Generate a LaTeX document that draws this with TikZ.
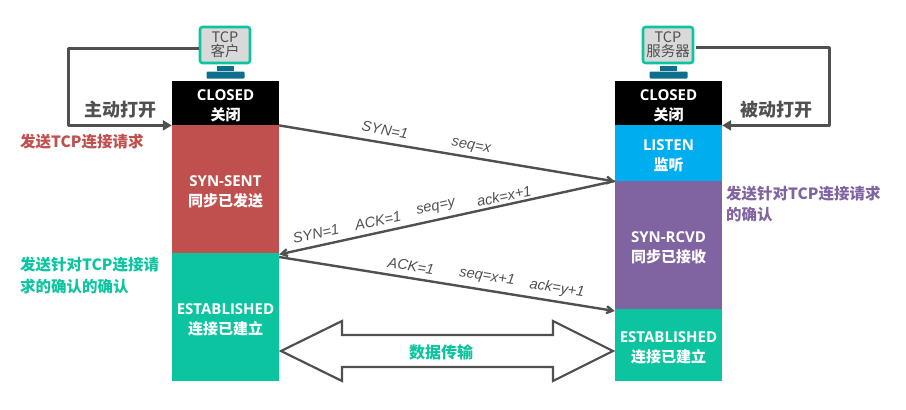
\documentclass[tikz,border=0pt]{standalone}
\usepackage{fontspec}
\usetikzlibrary{arrows.meta,calc,shapes.arrows}
\setmainfont{Open Sans}
\setsansfont{Liberation Sans}
\newfontfamily\cjk{Noto Sans CJK SC}
\definecolor{cgray}{HTML}{505050}
\definecolor{cred}{HTML}{C0504D}
\definecolor{cgreen}{HTML}{0CC5A0}
\definecolor{cblue}{HTML}{00ADEF}
\definecolor{cpurple}{HTML}{8064A2}
\definecolor{cteal}{HTML}{0F6E8C}
\tikzset{
  state/.style={inner sep=0pt,minimum width=107pt,text=white,align=center,font=\bfseries\fontsize{15}{20}\selectfont,anchor=north},
  flow/.style={draw=cgray,line width=3pt,line join=round,-{Triangle[length=9pt,width=10pt]}},
  msg/.style={draw=cgray,line width=2.4pt,-{Straight Barb[length=6pt,width=7pt]}},
  msgtext/.style={text=cgray,font=\sffamily\fontsize{14.6}{18}\selectfont\itshape,inner sep=0pt},
  action/.style={text=cgray,font=\cjk\bfseries\fontsize{18}{20}\selectfont,inner sep=0pt},
  note/.style={font=\cjk\bfseries\fontsize{15.5}{21}\selectfont,inner sep=0pt,align=left,anchor=north west},
  screen/.style={draw=cgreen,line width=2.6pt,fill=gray!30,rounded corners=2.5pt,minimum width=50pt,minimum height=36pt,inner sep=0pt,align=center,text=cgray,font=\cjk\fontsize{14.5}{15}\selectfont},
  stand/.style={fill=cteal,inner sep=0pt},
}
\begin{document}
\begin{tikzpicture}[x=1pt,y=-1pt]
\useasboundingbox (0,0) rectangle (906,410);
% client column
\node[state,fill=black,minimum height=44pt] (cclosed) at (225.5,81) {\rule{0pt}{17pt}CLOSED\\{\cjk 关闭}};
\node[state,fill=cred,minimum height=128pt] (csent) at (225.5,125) {\rule{0pt}{17pt}SYN-SENT\\{\cjk 同步已发送}};
\node[state,fill=cgreen,minimum height=128pt] (cest) at (225.5,253) {\rule{0pt}{17pt}ESTABLISHED\\{\cjk 连接已建立}};
% server column
\node[state,fill=black,minimum height=44pt] (sclosed) at (668.5,81) {\rule{0pt}{17pt}CLOSED\\{\cjk 关闭}};
\node[state,fill=cblue,minimum height=56pt] (slisten) at (668.5,125) {\rule{0pt}{17pt}LISTEN\\{\cjk 监听}};
\node[state,fill=cpurple,minimum height=128pt] (srcvd) at (668.5,181) {\rule{0pt}{17pt}SYN-RCVD\\{\cjk 同步已接收}};
\node[state,fill=cgreen,minimum height=72pt] (sest) at (668.5,309) {\rule{0pt}{17pt}ESTABLISHED\\{\cjk 连接已建立}};
% monitors
\node[screen] (cpc) at (225,45) {TCP\\[-1pt]客户};
\node[stand,minimum width=17pt,minimum height=5pt] (cneck) at (225.5,68.5) {};
\node[stand,minimum width=38pt,minimum height=7pt,rounded corners=1pt] (cbase) at (225.5,75) {};
\node[screen] (spc) at (668,45) {TCP\\[-1pt]服务器};
\node[stand,minimum width=17pt,minimum height=5pt] (sneck) at (668.5,68.5) {};
\node[stand,minimum width=38pt,minimum height=7pt,rounded corners=1pt] (sbase) at (668.5,75) {};
% open arrows
\coordinate (cleft) at (68,48);
\coordinate (sright) at (829,47);
\draw[flow] (cpc.west |- cleft) -- (cleft) |- (cclosed.south west);
\draw[flow] ($(spc.east |- sright)+(2,0)$) -- (sright) |- (sclosed.south east);
\node[action] (copen) at (120,110) {主动打开};
\node[action] (sopen) at (776,110) {被动打开};
% messages
\draw[msg] (cclosed.south east) -- (slisten.south west);
\draw[msg] (srcvd.north west) -- ($(csent.south east)+(0,1)$);
\draw[msg] ($(cest.north east)+(0,4)$) -- ($(sest.north west)+(0,2)$);
\node[msgtext,rotate=-10] (m1) at (385,130) {SYN=1};
\node[msgtext,rotate=-10] (m2) at (471,147) {seq=x};
\node[msgtext,rotate=12] (m3) at (316,234) {SYN=1};
\node[msgtext,rotate=12] (m4) at (378,221) {ACK=1};
\node[msgtext,rotate=12] (m5) at (436,208) {seq=y};
\node[msgtext,rotate=12] (m6) at (504,196) {ack=x+1};
\node[msgtext,rotate=-9] (m7) at (411,266) {ACK=1};
\node[msgtext,rotate=-9] (m8) at (487,277) {seq=x+1};
\node[msgtext,rotate=-9] (m9) at (557,289) {ack=y+1};
% data arrow
\coordinate (dl) at (281,351);
\coordinate (dr) at (613,351);
\draw[draw=cgray,line width=2.2pt,line join=miter,fill=white]
  (dl) -- (342,321) -- (342,335) -- (553,335) -- (553,321) -- (dr)
  -- (553,381) -- (553,367) -- (342,367) -- (342,381) -- cycle;
\node[text=cgreen,font=\cjk\bfseries\fontsize{16}{18}\selectfont,inner sep=0pt] (data) at (441,352) {数据传输};
% notes
\node[note,text=cred] (n1) at (20,134) {发送TCP连接请求};
\node[note,text=cgreen] (n2) at (20,257) {发送针对TCP连接请\\[1pt]求的确认的确认};
\node[note,text=cpurple] (n3) at (726,186) {发送针对TCP连接请求\\的确认};
\end{tikzpicture}
\end{document}
